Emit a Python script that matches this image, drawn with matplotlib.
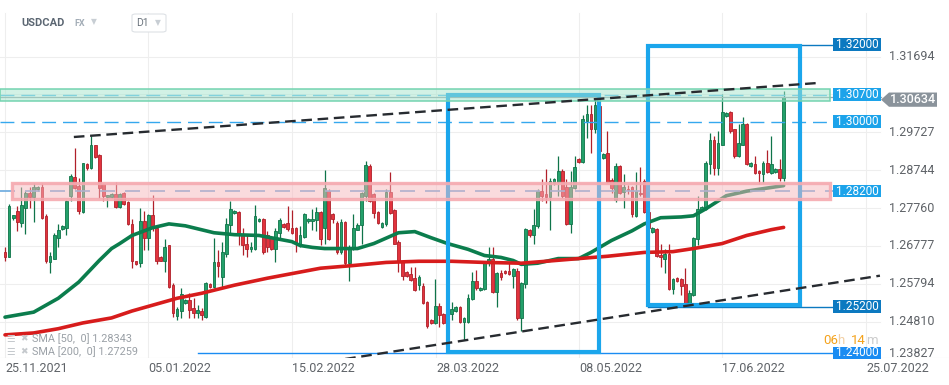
import matplotlib.pyplot as plt
import matplotlib.transforms as mtrans
from matplotlib.patches import Rectangle, Polygon, FancyBboxPatch
import numpy as np

plt.rcParams['font.family'] = ['Roboto', 'DejaVu Sans']

# daily candles USDCAD (open, high, low, close)
opens = [1.2661, 1.2648, 1.2751, 1.2769, 1.2738, 1.2777, 1.2815, 1.2805, 1.2826, 1.2831,
         1.2756, 1.2635, 1.2645, 1.2699, 1.2723, 1.2725, 1.2808, 1.2856, 1.2833, 1.2766,
         1.2890, 1.2880, 1.2939, 1.2913, 1.2838, 1.2805, 1.2805, 1.2813, 1.2779, 1.2815,
         1.2792, 1.2735, 1.2638, 1.2633, 1.2743, 1.2699, 1.2759, 1.2725, 1.2648, 1.2640,
         1.2679, 1.2576, 1.2496, 1.2509, 1.2530, 1.2537, 1.2517, 1.2504, 1.2509, 1.2494,
         1.2578, 1.2571, 1.2635, 1.2596, 1.2658, 1.2733, 1.2764, 1.2766, 1.2710, 1.2684,
         1.2669, 1.2671, 1.2743, 1.2748, 1.2705, 1.2699, 1.2669, 1.2712, 1.2735, 1.2738,
         1.2725, 1.2725, 1.2684, 1.2702, 1.2743, 1.2743, 1.2746, 1.2766, 1.2725, 1.2820,
         1.2761, 1.2738, 1.2661, 1.2741, 1.2633, 1.2674, 1.2720, 1.2733, 1.2808, 1.2885,
         1.2813, 1.2766, 1.2728, 1.2735, 1.2818, 1.2771, 1.2687, 1.2635, 1.2610, 1.2604,
         1.2594, 1.2576, 1.2573, 1.2532, 1.2486, 1.2478, 1.2522, 1.2501, 1.2478, 1.2501,
         1.2509, 1.2519, 1.2481, 1.2481, 1.2540, 1.2586, 1.2563, 1.2566, 1.2633, 1.2643,
         1.2558, 1.2607, 1.2612, 1.2612, 1.2599, 1.2614, 1.2491, 1.2578, 1.2720, 1.2705,
         1.2730, 1.2820, 1.2813, 1.2805, 1.2841, 1.2844, 1.2872, 1.2831, 1.2735, 1.2828,
         1.2903, 1.2895, 1.3003, 1.3021, 1.2982, 1.3040, 1.2905, 1.2918, 1.2849, 1.2797,
         1.2885, 1.2818, 1.2826, 1.2831, 1.2756, 1.2815, 1.2846, 1.2766, 1.2715, 1.2723,
         1.2653, 1.2643, 1.2656, 1.2566, 1.2594, 1.2591, 1.2578, 1.2530, 1.2550, 1.2697,
         1.2771, 1.2774, 1.2890, 1.2952, 1.2880, 1.2941, 1.3016, 1.3026, 1.2980, 1.2910,
         1.2941, 1.2995, 1.2885, 1.2890, 1.2872, 1.2864, 1.2892, 1.2867, 1.2869, 1.2877,
         1.2854]
highs = [1.2674, 1.2787, 1.2759, 1.2782, 1.2831, 1.2820, 1.2831, 1.2841, 1.2833, 1.2841,
         1.2761, 1.2661, 1.2712, 1.2735, 1.2732, 1.2797, 1.2864, 1.2933, 1.2854, 1.2894,
         1.2892, 1.2962, 1.2941, 1.2916, 1.2841, 1.2810, 1.2815, 1.2844, 1.2815, 1.2818,
         1.2795, 1.2748, 1.2640, 1.2777, 1.2769, 1.2761, 1.2810, 1.2728, 1.2651, 1.2697,
         1.2681, 1.2581, 1.2519, 1.2568, 1.2540, 1.2555, 1.2542, 1.2524, 1.2517, 1.2583,
         1.2581, 1.2699, 1.2666, 1.2687, 1.2751, 1.2795, 1.2772, 1.2769, 1.2725, 1.2705,
         1.2687, 1.2784, 1.2751, 1.2751, 1.2717, 1.2702, 1.2725, 1.2751, 1.2738, 1.2782,
         1.2771, 1.2728, 1.2730, 1.2764, 1.2751, 1.2774, 1.2779, 1.2769, 1.2874, 1.2825,
         1.2764, 1.2743, 1.2748, 1.2743, 1.2679, 1.2761, 1.2738, 1.2818, 1.2898, 1.2890,
         1.2815, 1.2769, 1.2741, 1.2826, 1.2869, 1.2774, 1.2692, 1.2640, 1.2612, 1.2622,
         1.2622, 1.2602, 1.2581, 1.2535, 1.2489, 1.2591, 1.2530, 1.2504, 1.2519, 1.2532,
         1.2522, 1.2522, 1.2494, 1.2553, 1.2610, 1.2615, 1.2571, 1.2635, 1.2674, 1.2674,
         1.2610, 1.2615, 1.2615, 1.2633, 1.2620, 1.2620, 1.2584, 1.2725, 1.2723, 1.2774,
         1.2826, 1.2851, 1.2877, 1.2854, 1.2853, 1.2910, 1.2877, 1.2851, 1.2872, 1.2910,
         1.2905, 1.3018, 1.3044, 1.3044, 1.3070, 1.3050, 1.2918, 1.2977, 1.2854, 1.2892,
         1.2887, 1.2864, 1.2836, 1.2833, 1.2869, 1.2882, 1.2851, 1.2770, 1.2728, 1.2725,
         1.2684, 1.2671, 1.2684, 1.2594, 1.2596, 1.2594, 1.2620, 1.2563, 1.2702, 1.2808,
         1.2782, 1.2898, 1.2970, 1.2962, 1.2975, 1.3072, 1.3026, 1.3029, 1.2982, 1.2995,
         1.3013, 1.2998, 1.2895, 1.2910, 1.2874, 1.2898, 1.2928, 1.2962, 1.2880, 1.2903,
         1.3080]
lows = [1.2638, 1.2648, 1.2746, 1.2717, 1.2728, 1.2710, 1.2777, 1.2741, 1.2820, 1.2748,
        1.2633, 1.2607, 1.2645, 1.2676, 1.2720, 1.2705, 1.2795, 1.2826, 1.2761, 1.2764,
        1.2874, 1.2877, 1.2905, 1.2802, 1.2795, 1.2779, 1.2802, 1.2777, 1.2777, 1.2785,
        1.2733, 1.2620, 1.2628, 1.2622, 1.2666, 1.2666, 1.2717, 1.2630, 1.2638, 1.2610,
        1.2568, 1.2494, 1.2486, 1.2491, 1.2527, 1.2491, 1.2491, 1.2491, 1.2486, 1.2491,
        1.2568, 1.2568, 1.2596, 1.2571, 1.2648, 1.2710, 1.2761, 1.2679, 1.2653, 1.2648,
        1.2661, 1.2666, 1.2741, 1.2658, 1.2663, 1.2666, 1.2635, 1.2692, 1.2725, 1.2717,
        1.2710, 1.2661, 1.2676, 1.2699, 1.2738, 1.2720, 1.2717, 1.2679, 1.2684, 1.2694,
        1.2738, 1.2658, 1.2658, 1.2627, 1.2586, 1.2666, 1.2720, 1.2684, 1.2795, 1.2792,
        1.2751, 1.2735, 1.2725, 1.2730, 1.2761, 1.2682, 1.2610, 1.2589, 1.2597, 1.2586,
        1.2560, 1.2563, 1.2527, 1.2465, 1.2476, 1.2476, 1.2468, 1.2476, 1.2434, 1.2486,
        1.2506, 1.2478, 1.2434, 1.2478, 1.2537, 1.2563, 1.2560, 1.2563, 1.2627, 1.2555,
        1.2519, 1.2589, 1.2604, 1.2602, 1.2568, 1.2486, 1.2457, 1.2568, 1.2702, 1.2684,
        1.2725, 1.2795, 1.2790, 1.2720, 1.2836, 1.2808, 1.2802, 1.2733, 1.2712, 1.2826,
        1.2893, 1.2893, 1.2957, 1.2918, 1.2972, 1.2915, 1.2903, 1.2841, 1.2815, 1.2792,
        1.2813, 1.2777, 1.2813, 1.2753, 1.2754, 1.2808, 1.2764, 1.2720, 1.2712, 1.2648,
        1.2622, 1.2607, 1.2563, 1.2553, 1.2584, 1.2550, 1.2527, 1.2519, 1.2548, 1.2679,
        1.2769, 1.2772, 1.2864, 1.2862, 1.2862, 1.2939, 1.3013, 1.2972, 1.2905, 1.2908,
        1.2939, 1.2888, 1.2882, 1.2864, 1.2838, 1.2841, 1.2867, 1.2864, 1.2867, 1.2846,
        1.2846]
closes = [1.2648, 1.2782, 1.2759, 1.2741, 1.2784, 1.2815, 1.2805, 1.2831, 1.2831, 1.2751,
          1.2638, 1.2651, 1.2707, 1.2720, 1.2730, 1.2795, 1.2859, 1.2828, 1.2769, 1.2892,
          1.2880, 1.2939, 1.2908, 1.2828, 1.2808, 1.2810, 1.2813, 1.2779, 1.2813, 1.2787,
          1.2735, 1.2640, 1.2630, 1.2743, 1.2699, 1.2759, 1.2725, 1.2640, 1.2640, 1.2676,
          1.2571, 1.2504, 1.2514, 1.2553, 1.2537, 1.2512, 1.2504, 1.2512, 1.2499, 1.2581,
          1.2571, 1.2635, 1.2625, 1.2663, 1.2735, 1.2774, 1.2769, 1.2710, 1.2681, 1.2669,
          1.2676, 1.2756, 1.2748, 1.2663, 1.2676, 1.2669, 1.2717, 1.2746, 1.2728, 1.2723,
          1.2712, 1.2684, 1.2705, 1.2761, 1.2748, 1.2748, 1.2766, 1.2697, 1.2828, 1.2697,
          1.2748, 1.2661, 1.2741, 1.2633, 1.2674, 1.2725, 1.2733, 1.2815, 1.2887, 1.2795,
          1.2764, 1.2738, 1.2738, 1.2818, 1.2764, 1.2684, 1.2635, 1.2599, 1.2599, 1.2589,
          1.2563, 1.2596, 1.2530, 1.2470, 1.2478, 1.2522, 1.2499, 1.2478, 1.2504, 1.2514,
          1.2519, 1.2481, 1.2491, 1.2542, 1.2586, 1.2568, 1.2568, 1.2633, 1.2643, 1.2558,
          1.2607, 1.2596, 1.2607, 1.2604, 1.2617, 1.2491, 1.2581, 1.2723, 1.2705, 1.2733,
          1.2820, 1.2808, 1.2805, 1.2846, 1.2851, 1.2872, 1.2808, 1.2735, 1.2831, 1.2882,
          1.2895, 1.3008, 1.3021, 1.2982, 1.3044, 1.2925, 1.2916, 1.2844, 1.2828, 1.2885,
          1.2815, 1.2831, 1.2823, 1.2761, 1.2820, 1.2813, 1.2766, 1.2725, 1.2725, 1.2651,
          1.2648, 1.2656, 1.2566, 1.2591, 1.2586, 1.2573, 1.2530, 1.2555, 1.2699, 1.2774,
          1.2779, 1.2892, 1.2954, 1.2880, 1.2946, 1.3026, 1.3024, 1.2975, 1.2910, 1.2946,
          1.2995, 1.2890, 1.2892, 1.2867, 1.2867, 1.2892, 1.2869, 1.2890, 1.2877, 1.2854,
          1.30634]

# moving averages, sampled along the curves (candle index, value)
sma50_idx = [0, 7, 13, 18, 23, 26, 28, 31, 36, 40, 44, 51, 56, 62, 65, 70, 72, 75, 78, 86,
             90, 96, 100, 104, 108, 113, 117, 121, 124, 126, 130, 135, 140, 143, 148, 153,
             156, 160, 165, 168, 171, 176, 181, 186, 190]
sma50_val = [1.2493, 1.2506, 1.2542, 1.2584, 1.2640, 1.2671, 1.2684, 1.2705, 1.2725, 1.2735,
             1.2730, 1.2712, 1.2707, 1.2705, 1.2699, 1.2689, 1.2679, 1.2674, 1.2671, 1.2671,
             1.2684, 1.2712, 1.2715, 1.2699, 1.2684, 1.2669, 1.2653, 1.2648, 1.2640, 1.2630,
             1.2633, 1.2645, 1.2645, 1.2661, 1.2692, 1.2717, 1.2735, 1.2751, 1.2753, 1.2756,
             1.2774, 1.2808, 1.2820, 1.2828, 1.28343]
sma200_idx = [0, 7, 13, 19, 26, 31, 37, 42, 48, 56, 64, 72, 77, 85, 93, 101, 109, 117, 126,
              132, 140, 147, 156, 163, 168, 175, 181, 187, 190]
sma200_val = [1.2447, 1.2452, 1.2463, 1.2478, 1.2491, 1.2509, 1.2527, 1.2542, 1.2555, 1.2576,
              1.2594, 1.2610, 1.2620, 1.2627, 1.2635, 1.2638, 1.2638, 1.2635, 1.2633, 1.2638,
              1.2645, 1.2651, 1.2661, 1.2663, 1.2671, 1.2684, 1.2705, 1.2720, 1.27259]

# x-axis dates (candle position of each label)
date_labels = ['25.11.2021', '05.01.2022', '15.02.2022', '28.03.2022', '08.05.2022',
               '17.06.2022', '25.07.2022']
date_pos = [0, 34.9, 70.0, 105.2, 140.1, 175.0, 210.1]

# price scale
tick_start = 1.23827
tick_step = 0.0098335
last_price = 1.30634

# drawn levels (price, tag colour)
levels = [1.32, 1.307, 1.30, 1.282, 1.252, 1.24]
level_cols = ['#0c79c0', '#1ca3ea', '#1ca3ea', '#1ca3ea', '#0c79c0', '#1a8cf2']

# trend lines and boxes drawn by the analyst (candle index, price)
upper_trend = [(16.8, 1.29605), (198.4, 1.31007)]
lower_trend = [(83.0, 1.23844), (213.5, 1.26006)]
box1 = (108.1, 145.0, 1.24026, 1.30695)
box2 = (156.9, 194.0, 1.25246, 1.31967)
green_zone = (1.30552, 1.30838)
red_zone = (1.28004, 1.28404)

W, H = 949, 385
SP = 4.098           # pixels per candle


def px(x):
    return (x - 5) / SP


fig = plt.figure(figsize=(W / 100, H / 100), dpi=100)
ax = fig.add_axes([0, 1 - 358 / H, 1, 358 / H])
ax.set_xlim(px(0), px(W))
ax.set_ylim(1.2387, 1.3316)
ax.axis('off')
ymin, ymax = ax.get_ylim()
tr_ax_y = mtrans.blended_transform_factory(ax.transAxes, ax.transData)
tr_x_ax = mtrans.blended_transform_factory(ax.transData, ax.transAxes)

# grid
ticks = [tick_start + k * tick_step for k in range(9)]
for t in ticks:
    ax.plot([px(0), px(880)], [t, t], color='#eeeeee', lw=0.8, zorder=0)
for d in date_pos:
    ax.plot([d, d], [ymin, 1.3283], color='#eeeeee', lw=0.8, zorder=0)
ax.plot([px(0), px(W)], [ymin + 0.00005] * 2, color='#e6e6e6', lw=0.8, zorder=0)

# candles
o = np.array(opens); h = np.array(highs); l = np.array(lows); c = np.array(closes)
x = np.arange(len(o))
up = c >= o
face = np.where(up, '#23a06a', '#e2333d')
edge = np.where(up, '#0f7449', '#b0202a')
ax.vlines(x, l, h, colors=edge, lw=0.9, zorder=2)
ax.bar(x, np.maximum(np.abs(c - o), 0.00014), bottom=np.minimum(o, c), width=0.66,
       color=face, edgecolor=edge, linewidth=0.6, zorder=2)

# moving averages
ax.plot(sma50_idx, sma50_val, color='#0b7d4d', lw=2.6, solid_capstyle='round', zorder=3)
ax.plot(sma200_idx, sma200_val, color='#d71c1c', lw=2.6, solid_capstyle='round', zorder=3)

# horizontal levels
ax.plot([px(0), px(833)], [1.30, 1.30], color='#35a8ee', lw=1, dashes=(10, 5), zorder=5)
ax.plot([px(0), px(833)], [1.282, 1.282], color='#6aa9de', lw=1.2, dashes=(9, 6), zorder=5)
ax.plot([px(0), px(833)], [1.307, 1.307], color='#5cc0ee', lw=1, dashes=(10, 5), zorder=5)
ax.plot([px(0), px(881)], [last_price, last_price], color='#9aa3aa', lw=0.9, zorder=5)
ax.plot([px(669), px(833)], [1.32, 1.32], color='#0c79c0', lw=1, zorder=5)
ax.plot([px(648), px(833)], [1.252, 1.252], color='#0c79c0', lw=1, zorder=5)
ax.plot([px(198), px(833)], [1.24, 1.24], color='#1a8cf2', lw=1, zorder=5)

# boxes
for bx in (box1, box2):
    ax.add_patch(Rectangle((bx[0], bx[2]), bx[1] - bx[0], bx[3] - bx[2], fill=False,
                           edgecolor='#1ba6ec', lw=3, zorder=6))

# zones (semi transparent, over everything)
ax.add_patch(Rectangle((px(0), green_zone[0]), px(830) - px(0), green_zone[1] - green_zone[0],
                       facecolor='#a6e5cd', alpha=0.5, lw=0, zorder=8))
ax.add_patch(Rectangle((px(0), green_zone[0]), px(830) - px(0), green_zone[1] - green_zone[0],
                       fill=False, edgecolor='#74d3b0', lw=1.1, zorder=8))
ax.add_patch(Rectangle((px(12), red_zone[0]), px(830) - px(12), red_zone[1] - red_zone[0],
                       facecolor='#f7b8bd', alpha=0.5, lw=0, zorder=8))
ax.add_patch(Rectangle((px(12), red_zone[0]), px(830) - px(12), red_zone[1] - red_zone[0],
                       fill=False, edgecolor='#f5aab0', lw=2.4, alpha=0.9, zorder=8))

# trend lines
for tl in (upper_trend, lower_trend):
    ax.plot([tl[0][0], tl[1][0]], [tl[0][1], tl[1][1]], color='#272b30', lw=1.7,
            dashes=(4.5, 2.4), zorder=10)

# right price labels
for t in ticks:
    if abs(t - last_price) < 0.004:
        continue
    ax.text(889 / W, max(t, ymin + 0.0011), f'{t:.5f}', transform=tr_ax_y, ha='left',
            va='center', fontsize=9, color='#5f6368', zorder=11, clip_on=False)

# level tags
for lv, col in zip(levels, level_cols):
    ax.add_patch(Rectangle((833 / W, lv - 0.00165), 48 / W, 0.0033, transform=tr_ax_y,
                           facecolor=col, lw=0, zorder=12, clip_on=False))
    ax.text(857 / W, lv, f'{lv:.5f}', transform=tr_ax_y, ha='center', va='center',
            fontsize=8.5, color='white', zorder=13, clip_on=False)

# last price tag
p = last_price - 0.0006
ax.add_patch(Polygon([(881 / W, p), (889 / W, p + 0.00185), (937 / W, p + 0.00185),
                      (937 / W, p - 0.00185), (889 / W, p - 0.00185)], closed=True,
                     transform=tr_ax_y, facecolor='#8a939b', lw=0, zorder=12, clip_on=False))
ax.text(890 / W, p, f'{last_price:.5f}', transform=tr_ax_y, ha='left', va='center',
        fontsize=9, color='white', fontweight='medium', zorder=13, clip_on=False)

# date labels
for d, lab in zip(date_pos, date_labels):
    ax.text(d, -0.03, lab, transform=tr_x_ax, ha='left', va='center', fontsize=9,
            color='#5f6368', clip_on=False)


def ftext(xp, yp, s, **kw):
    fig.text(xp / W, 1 - yp / H, s, va='center', ha='left', **kw)


# header
ftext(21, 23, 'USDCAD', fontsize=8, fontweight='bold', color='#5b6672')
ftext(74, 24, 'FX', fontsize=6.5, fontweight='bold', color='#a3adb7')
ftext(91, 22, '▼', fontsize=5.5, color='#c8ced4')
fig.patches.append(FancyBboxPatch((132 / W, 1 - 32 / H), 34 / W, 18 / H,
                                  boxstyle='round,pad=0,rounding_size=0.004',
                                  transform=fig.transFigure, facecolor='white',
                                  edgecolor='#dde1e5', lw=0.8))
ftext(136, 23, 'D1', fontsize=7.5, color='#6b747d')
ftext(155, 23, '▼', fontsize=5.5, color='#c8ced4')

# indicator legend
ftext(6, 339, '☰', fontsize=7, color='#c5c9cd')
ftext(20, 339, '✖', fontsize=6.5, color='#c5c9cd')
ftext(32, 339, 'SMA [50,  0] 1.28343', fontsize=7.8, color='#9aa0a6')
ftext(6, 352, '☰', fontsize=7, color='#c5c9cd')
ftext(20, 352, '✖', fontsize=6.5, color='#c5c9cd')
ftext(32, 352, 'SMA [200,  0] 1.27259', fontsize=7.8, color='#9aa0a6')

# candle countdown
ftext(823, 340, '06', fontsize=9.5, color='#f4a21c')
ftext(837, 340, 'h', fontsize=9.5, color='#f2cfa3')
ftext(851, 340, '14', fontsize=9.5, color='#f4a21c')
ftext(866, 340, 'm', fontsize=9.5, color='#cccccc')

fig.savefig('out.png', dpi=100, facecolor='white')
